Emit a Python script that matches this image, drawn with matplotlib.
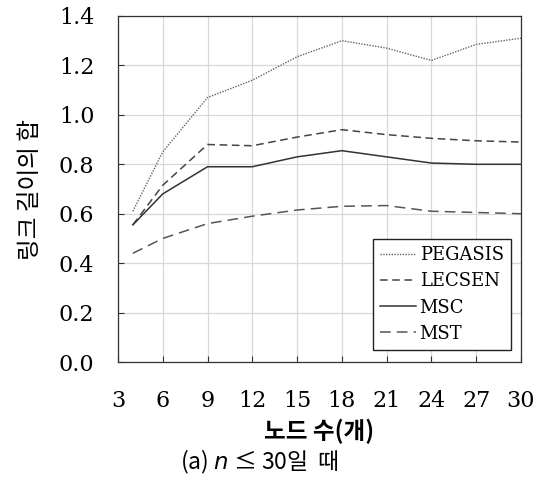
import numpy as np
from matplotlib import pyplot as plt

plt.rcParams['font.family'] = ['DejaVu Serif']

# 노드 수
nodes = [4, 6, 9, 12, 15, 18, 21, 24, 27, 30]

pegasis = [0.61, 0.85, 1.07, 1.14, 1.235, 1.30, 1.27, 1.22, 1.285, 1.31]
lecsen = [0.555, 0.715, 0.88, 0.875, 0.91, 0.94, 0.92, 0.905, 0.895, 0.89]
msc = [0.555, 0.68, 0.79, 0.79, 0.83, 0.855, 0.83, 0.805, 0.80, 0.80]
mst = [0.44, 0.50, 0.56, 0.59, 0.615, 0.63, 0.633, 0.61, 0.605, 0.60]

xticks = [3, 6, 9, 12, 15, 18, 21, 24, 27, 30]
yticks = [0.0, 0.2, 0.4, 0.6, 0.8, 1.0, 1.2, 1.4]

kr = ['Noto Sans CJK KR', 'DejaVu Sans']

fig = plt.figure(figsize=(5.41, 4.84), dpi=100)
ax = fig.add_axes([0.218, 0.252, 0.745, 0.715])

ax.plot(nodes, pegasis, color="#666666", lw=1.0, linestyle=(0, (1, 1)), label="PEGASIS")
ax.plot(nodes, lecsen, color="#444444", lw=1.1, linestyle=(0, (5, 3)), label="LECSEN")
ax.plot(nodes, msc, color="#333333", lw=1.1, linestyle="-", label="MSC")
ax.plot(nodes, mst, color="#555555", lw=1.1, linestyle=(0, (7, 4)), label="MST")

ax.set_xlim(3, 30)
ax.set_ylim(0, 1.4)
ax.set_xticks(xticks)
ax.set_yticks(yticks)
ax.set_yticklabels([f"{v:.1f}" for v in yticks])
ax.tick_params(direction="in", labelsize=16, length=4, color="#333333")
ax.tick_params(axis="y", pad=17)
ax.tick_params(axis="x", pad=20)
ax.grid(True, color="#d8d8d8", lw=0.9)
for s in ax.spines.values():
    s.set_color("#333333")
    s.set_linewidth(0.9)

ax.set_ylabel("링크 길이의 합", family=kr, fontsize=17, labelpad=12)
ax.set_xlabel("노드 수(개)", family=kr, fontsize=17, fontweight="bold", labelpad=5)

leg = ax.legend(loc="lower right", bbox_to_anchor=(0.975, 0.035), borderaxespad=0,
                fancybox=False, edgecolor="#222222", framealpha=1, fontsize=13,
                handlelength=2.0, handletextpad=0.2, labelspacing=0.45, borderpad=0.4)
leg.get_frame().set_linewidth(1.0)

fig.text(0.48, 0.045, "(a) $n$ ≤ 30일  때", family=kr, fontsize=16.5, ha="center", va="center")

fig.savefig("out.png", dpi=100)
